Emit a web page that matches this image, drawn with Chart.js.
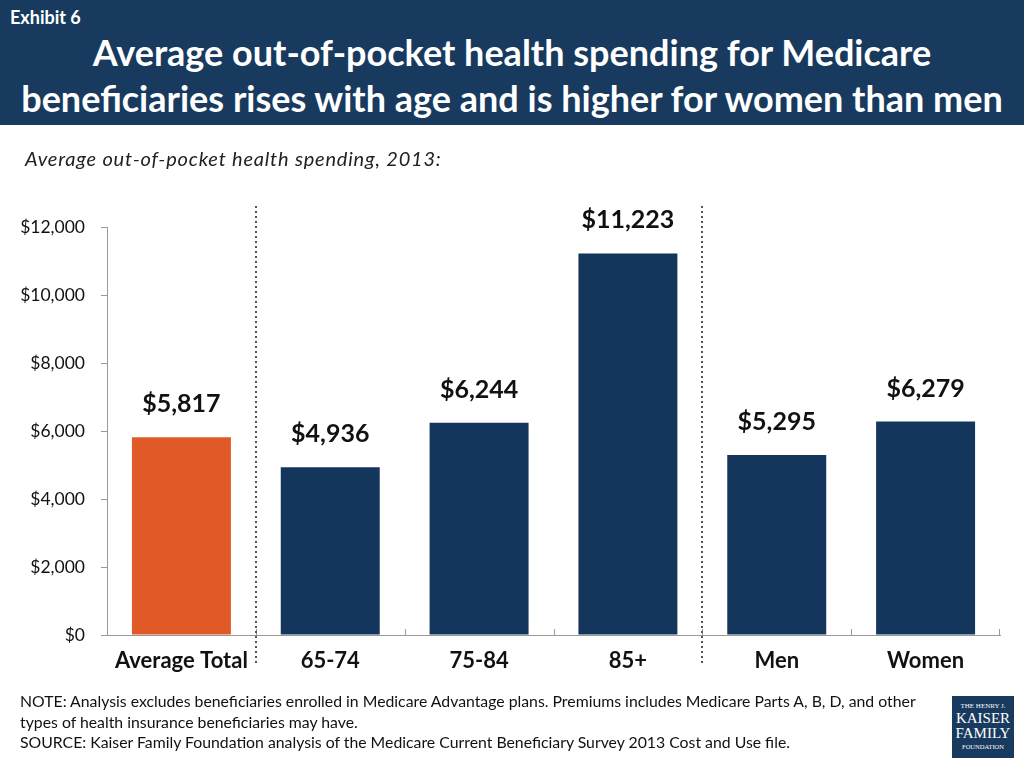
<!DOCTYPE html>
<html>
<head>
<meta charset="utf-8">
<script src="https://cdn.jsdelivr.net/npm/chart.js@4"></script>
<style>
  body { margin: 0; width: 1024px; height: 768px; position: relative; overflow: hidden; background: #fff; font-family: Lato, "Open Sans", sans-serif; }
  #head { position: absolute; left: 0; top: 0; width: 1024px; height: 125px; background: #173a5e; color: #fff; }
  #exhibit { position: absolute; left: 10px; top: 6px; font-size: 18px; font-weight: bold; }
  #title { position: absolute; left: 0; top: 29px; width: 1024px; text-align: center; font-size: 36px; font-weight: bold; line-height: 46px; }
  #sub { position: absolute; left: 25px; top: 146px; font-size: 20px; letter-spacing: 0.8px; font-style: italic; color: #222; }
  #note { position: absolute; left: 20px; top: 691px; font-size: 15.8px; line-height: 20.5px; color: #111; }
  #logo { position: absolute; left: 952px; top: 696px; width: 62px; height: 62px; background: #173a5e; color: #fff; text-align: center; font-family: "Liberation Serif", serif; }
  canvas { position: absolute; left: 0; top: 0; }
</style>
</head>
<body>
<canvas id="chart" width="1024" height="768"></canvas>
<div id="head">
  <div id="exhibit">Exhibit 6</div>
  <div id="title">Average out-of-pocket health spending for Medicare<br>beneficiaries rises with age and is higher for women than men</div>
</div>
<div id="sub">Average out-of-pocket health spending, 2013:</div>
<div id="note">NOTE: Analysis excludes beneficiaries enrolled in Medicare Advantage plans. Premiums includes Medicare Parts A, B, D, and other<br>types of health insurance beneficiaries may have.<br>SOURCE: Kaiser Family Foundation analysis of the Medicare Current Beneficiary Survey 2013 Cost and Use file.</div>
<div id="logo">
  <div style="font-size:7px;margin-top:6px;">THE HENRY J.</div>
  <div style="font-size:15px;line-height:15px;margin-top:1px;">KAISER</div>
  <div style="font-size:15px;line-height:15px;">FAMILY</div>
  <div style="font-size:6.5px;margin-top:2px;">FOUNDATION</div>
</div>
<script>
let categories = ['Average Total', '65-74', '75-84', '85+', 'Men', 'Women'];
let spending = [5817, 4936, 6244, 11223, 5295, 6279];
let barColors = ['#e05a27', '#14365c', '#14365c', '#14365c', '#14365c', '#14365c'];
let tickValues = [0, 2000, 4000, 6000, 8000, 10000, 12000];
let dividerAfter = [0, 3];

let money = v => '$' + v.toLocaleString('en-US');

let extras = {
    id: 'extras',
    afterDatasetsDraw(chart) {
        let ctx = chart.ctx;
        let x = chart.scales.x;
        let area = chart.chartArea;
        let step = x.width / categories.length;
        // small upward ticks between categories
        ctx.save();
        ctx.strokeStyle = '#9a9a9a';
        ctx.lineWidth = 1;
        for (let i = 1; i < categories.length; i++) {
            let px = Math.round(x.left + step * i) + 0.5;
            ctx.beginPath();
            ctx.moveTo(px, area.bottom);
            ctx.lineTo(px, area.bottom - 6);
            ctx.stroke();
        }
        ctx.beginPath();
        ctx.moveTo(x.right - 0.5, area.bottom);
        ctx.lineTo(x.right - 0.5, area.bottom - 6);
        ctx.stroke();
        // dotted dividers
        ctx.fillStyle = '#555';
        dividerAfter.forEach(i => {
            let px = Math.round(x.left + step * (i + 1));
            for (let y = 206; y < 665; y += 5) {
                ctx.fillRect(px - 1, y, 2, 2);
            }
        });
        // value labels
        let meta = chart.getDatasetMeta(0);
        ctx.fillStyle = '#111';
        ctx.font = 'bold 25px Lato, "Open Sans", sans-serif';
        ctx.textAlign = 'center';
        ctx.textBaseline = 'middle';
        meta.data.forEach((bar, i) => {
            ctx.fillText(money(spending[i]), bar.x, bar.y - 33);
        });
        ctx.restore();
    }
};

new Chart(document.getElementById('chart').getContext('2d'), {
    type: 'bar',
    data: {
        labels: categories,
        datasets: [{
            data: spending,
            backgroundColor: barColors,
            barPercentage: 0.665,
            categoryPercentage: 1
        }]
    },
    options: {
        responsive: false,
        animation: false,
        layout: { padding: { top: 227, right: 24, bottom: 0, left: 0 } },
        plugins: { legend: { display: false }, tooltip: { enabled: false } },
        scales: {
            x: {
                afterFit: s => { s.height = 133; },
                grid: { display: false },
                border: { color: '#9a9a9a' },
                ticks: { color: '#111', padding: 5, font: { family: 'Lato, "Open Sans", sans-serif', size: 22, weight: 'bold' } }
            },
            y: {
                min: 0,
                max: 12000,
                afterFit: s => { s.width = 107; },
                afterBuildTicks: s => { s.ticks = tickValues.map(v => ({ value: v })); },
                grid: { drawOnChartArea: false, tickLength: 6, color: '#9a9a9a' },
                border: { color: '#9a9a9a' },
                ticks: { color: '#111', padding: 16, callback: v => money(v), font: { family: 'Lato, "Open Sans", sans-serif', size: 17.5 } }
            }
        }
    },
    plugins: [extras]
});
</script>
</body>
</html>
